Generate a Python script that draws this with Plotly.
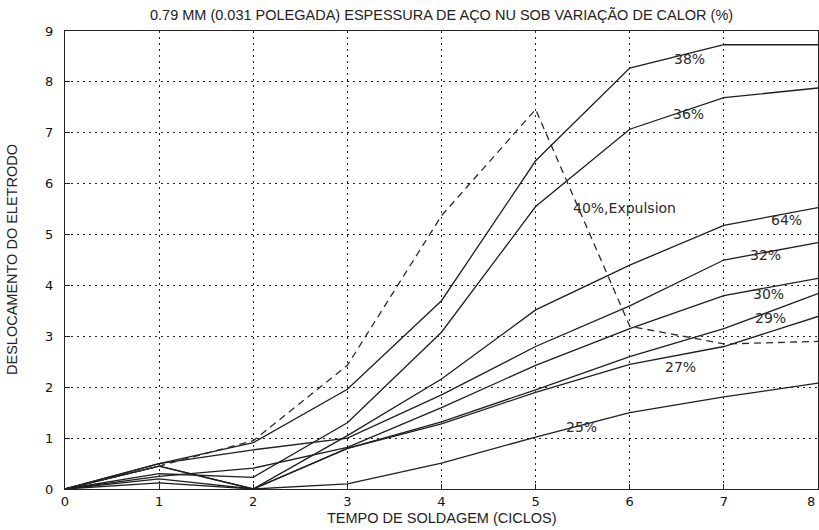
import plotly.graph_objects as go

# Weld time (cycles)
ciclos = [0, 1, 2, 3, 4, 5, 6, 7, 8]

# Electrode displacement for each heat setting
s38 = [0, 0.50, 0.91, 1.96, 3.70, 6.45, 8.27, 8.73, 8.73]
s36 = [0, 0.30, 0.23, 1.30, 3.08, 5.55, 7.07, 7.69, 7.88]
s34 = [0, 0.45, 0.00, 1.05, 2.16, 3.52, 4.40, 5.18, 5.53]
s32 = [0, 0.50, 0.77, 1.00, 1.85, 2.80, 3.60, 4.50, 4.84]
s30 = [0, 0.25, 0.41, 0.82, 1.60, 2.43, 3.15, 3.80, 4.14]
s29 = [0, 0.20, 0.00, 0.80, 1.32, 1.95, 2.60, 3.15, 3.84]
s27 = [0, 0.12, 0.00, 0.80, 1.28, 1.90, 2.45, 2.80, 3.39]
s25 = [0, 0.45, 0.00, 0.10, 0.51, 1.02, 1.50, 1.81, 2.08]
s40_expulsao = [0, 0.45, 0.95, 2.43, 5.37, 7.46, 3.20, 2.85, 2.90]

serie_solida = [s38, s36, s34, s32, s30, s29, s27, s25]

# Curve labels and where they sit (data coordinates)
rotulos = ["38%", "36%", "40%,Expulsion", "64%", "32%", "30%", "29%", "27%", "25%"]
rotulo_x = [6.64, 6.62, 5.94, 7.67, 7.44, 7.47, 7.49, 6.54, 5.49]
rotulo_y = [8.45, 7.37, 5.53, 5.29, 4.60, 3.84, 3.37, 2.39, 1.22]

x_ticks = [0, 1, 2, 3, 4, 5, 6, 7, 8]
y_ticks = [0, 1, 2, 3, 4, 5, 6, 7, 8, 9]

fig = go.Figure()

for ys in serie_solida:
    fig.add_trace(go.Scatter(x=ciclos, y=ys, mode="lines",
                             line=dict(color="#1e1e1e", width=1.3),
                             showlegend=False, hoverinfo="skip"))

fig.add_trace(go.Scatter(x=ciclos, y=s40_expulsao, mode="lines",
                         line=dict(color="#2a2a2a", width=1.3, dash="7px,5px"),
                         showlegend=False, hoverinfo="skip"))

for txt, xv, yv in zip(rotulos, rotulo_x, rotulo_y):
    fig.add_annotation(x=xv, y=yv, text=txt, showarrow=False,
                       font=dict(family="DejaVu Sans", size=14, color="#2a2a2a"),
                       xanchor="center", yanchor="middle")

fig.add_annotation(x=0.5, y=1, xref="paper", yref="paper", yshift=16,
                   text="0.79 MM (0.031 POLEGADA) ESPESSURA DE AÇO NU SOB VARIAÇÃO DE CALOR (%)",
                   showarrow=False, xanchor="center", yanchor="middle",
                   font=dict(family="Liberation Sans, Arial", size=14.5, color="#222222"))
fig.add_annotation(x=0.5, y=0, xref="paper", yref="paper", yshift=-29,
                   text="TEMPO DE SOLDAGEM (CICLOS)", showarrow=False,
                   xanchor="center", yanchor="middle",
                   font=dict(family="Liberation Sans, Arial", size=14.5, color="#222222"))
fig.add_annotation(x=0, y=0.5, xref="paper", yref="paper", xshift=-53,
                   text="DESLOCAMENTO DO ELETRODO", showarrow=False, textangle=-90,
                   xanchor="center", yanchor="middle",
                   font=dict(family="Liberation Sans, Arial", size=14.5, color="#222222"))

tick_font = dict(family="DejaVu Sans", size=13, color="#111111")

# The last x tick sits on the page edge, so its label is right-aligned to stay visible
x_ticktext = [str(v) for v in x_ticks[:-1]] + [""]
fig.add_annotation(x=x_ticks[-1], y=0, xref="x", yref="paper", yshift=-12,
                   text=str(x_ticks[-1]), showarrow=False,
                   xanchor="right", yanchor="middle", xshift=-1, font=tick_font)

axis_common = dict(
    showgrid=True, gridcolor="#222222", griddash="2px,4px", gridwidth=1,
    showline=True, linecolor="#222222", linewidth=1.3, mirror=True,
    ticks="inside", ticklen=5, tickcolor="#222222",
    zeroline=False, automargin=False,
    tickfont=tick_font,
)

fig.update_xaxes(range=[0, 8], tickvals=x_ticks, ticktext=x_ticktext, **axis_common)
fig.update_yaxes(range=[0, 9], tickvals=y_ticks, ticktext=[str(v) for v in y_ticks],
                 ticklabelstandoff=8, **axis_common)

fig.update_layout(
    width=819, height=530,
    margin=dict(l=65, r=1, t=31, b=41),
    paper_bgcolor="white", plot_bgcolor="white",
)

fig.write_html("out.html")
